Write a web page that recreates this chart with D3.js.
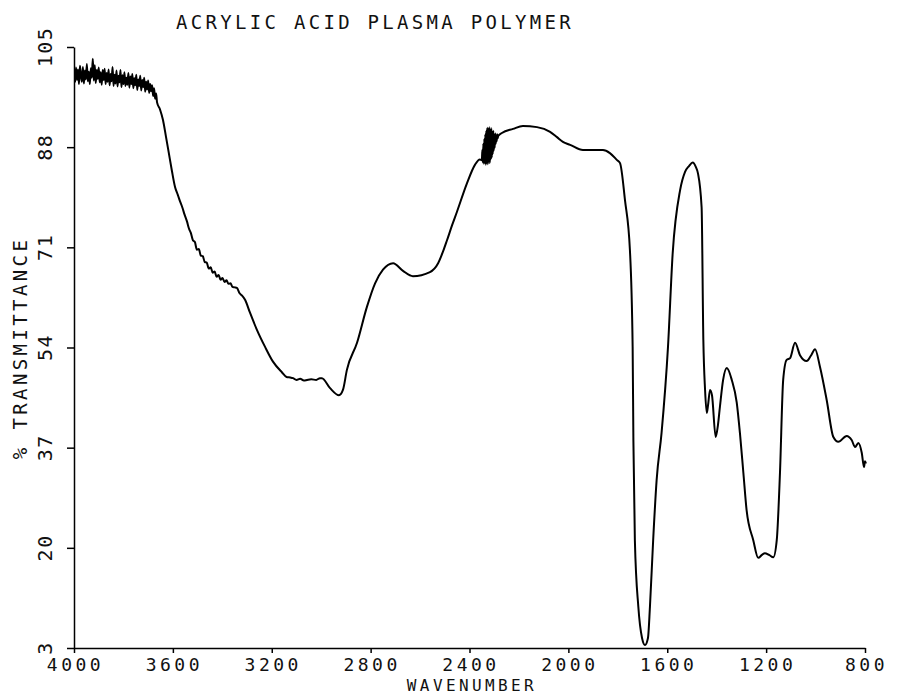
<!DOCTYPE html>
<html>

<head>
  <title>Acrylic Acid Plasma Polymer</title>
  <meta charset="utf-8" />
  <script src="https://d3js.org/d3.v7.min.js"></script>
  <style>
    body { margin: 0; background: #fff; }
    text { font-family: "DejaVu Sans Mono", monospace; fill: #111; }
    .spectrum { fill: none; stroke: #000; stroke-width: 2; stroke-linejoin: round; }
    .axis path, .axis line { stroke: #000; stroke-width: 1.5; }
  </style>
</head>

<body>
  <svg id="chart" width="901" height="695"></svg>

  <script>
    // wavenumber (cm-1) and % transmittance
    const wavenumber = [
      // noisy plateau
      3996, 3992, 3988, 3984, 3980, 3976, 3972, 3968, 3964, 3960, 3956, 3952, 3948, 3944, 3940, 3936,
      3932, 3928, 3924, 3920, 3916, 3912, 3908, 3904, 3900, 3896, 3892, 3888, 3884, 3880, 3876, 3872,
      3868, 3864, 3860, 3856, 3852, 3848, 3844, 3840, 3836, 3832, 3828, 3824, 3820, 3816, 3812, 3808,
      3804, 3800, 3796, 3792, 3788, 3784, 3780, 3776, 3772, 3768, 3764, 3760, 3756, 3752, 3748, 3744,
      3740, 3736, 3732, 3728, 3724, 3720, 3716, 3712, 3708, 3704, 3700, 3696, 3692, 3688, 3684, 3680,
      3676, 3672, 3668, 3664,
      // O-H band
      3652, 3640, 3628, 3616, 3604, 3591, 3580, 3571, 3562, 3553, 3543, 3535, 3527, 3519, 3511, 3503,
      3495, 3487, 3479, 3471, 3463, 3455, 3447, 3439, 3431, 3423, 3415, 3407, 3399, 3391, 3383, 3375,
      3367, 3359, 3350, 3341, 3330, 3320, 3308, 3288, 3260, 3227, 3195, 3159, 3140, 3125, 3114, 3100,
      3085, 3070, 3057, 3040, 3020, 3005, 2997, 2964, 2928, 2912, 2896, 2855, 2815, 2782, 2750, 2709,
      2669, 2629, 2560, 2527, 2507, 2491, 2470, 2451, 2410, 2378, 2358,
      // CO2 noise
      2350, 2348, 2346, 2344, 2342, 2340, 2338, 2336, 2334, 2332, 2330, 2328, 2326, 2324, 2322, 2320,
      2318, 2316, 2314, 2312, 2310, 2308, 2306, 2304, 2302, 2300, 2298, 2296, 2294, 2292, 2290, 2288,
      2286, 2284,
      // to the end
      2269, 2224, 2184, 2127, 2074, 2046, 2022, 1993, 1941, 1860, 1832, 1803, 1791, 1771, 1751, 1740,
      1737, 1731, 1717, 1702, 1690, 1678, 1670, 1657, 1643, 1623, 1597, 1578, 1548, 1528, 1512, 1497,
      1484, 1476, 1461, 1454, 1447, 1440, 1435, 1427, 1419, 1404, 1395, 1387, 1374, 1359, 1339, 1319,
      1306, 1292, 1279, 1252, 1232, 1217, 1205, 1188, 1171, 1157, 1144, 1131, 1117, 1103, 1083, 1063,
      1036, 1019, 1002, 982, 955, 928, 908, 874, 854, 840, 827, 813, 804, 800, 796
    ];
    const transmittance = [
      99.0, 101.5, 99.4, 101.2, 98.7, 101.8, 100.1, 99.1, 101.6, 98.8, 101.0, 99.5, 102.1, 99.2, 100.8, 98.7,
      101.4, 99.8, 103.0, 99.3, 101.9, 98.9, 101.1, 99.6, 101.5, 99.0, 100.7, 98.6, 101.1, 99.4, 101.3, 98.7,
      100.6, 99.1, 101.2, 98.5, 100.4, 99.2, 101.6, 98.4, 100.3, 98.8, 101.0, 98.3, 100.1, 99.0, 101.1, 98.2,
      100.2, 98.7, 100.7, 98.4, 99.8, 98.6, 100.6, 98.1, 100.0, 98.7, 100.4, 98.0, 99.7, 98.5, 100.3, 97.7,
      99.5, 98.4, 100.1, 97.6, 99.4, 98.2, 99.8, 97.4, 99.1, 97.8, 99.3, 97.2, 98.7, 97.5, 98.5, 96.7,
      98.0, 96.2, 97.1, 95.6,
      94.4, 92.6, 89.8, 86.9, 84.0, 81.2, 79.9, 78.8, 77.8, 76.6, 75.4, 74.2, 73.4, 72.2, 71.9, 70.6,
      70.7, 69.6, 69.5, 68.5, 68.4, 67.4, 67.6, 66.7, 66.9, 66.0, 66.3, 65.5, 65.8, 65.1, 65.4, 64.8,
      64.9, 64.3, 64.2, 64.1, 63.2, 62.8, 62.1, 59.9, 57.0, 54.1, 51.6, 49.8, 49.0, 48.9, 48.8, 48.5,
      48.7, 48.4, 48.5, 48.6, 48.5, 48.8, 48.8, 47.1, 45.9, 46.8, 50.2, 54.8, 60.9, 64.9, 67.2, 68.3,
      67.0, 66.1, 66.8, 68.3, 70.3, 72.2, 74.8, 77.0, 81.9, 85.0, 85.9,
      85.8, 87.5, 85.4, 88.6, 85.2, 89.4, 85.3, 90.2, 85.0, 90.8, 85.4, 91.3, 85.1, 91.0, 85.6, 91.4,
      85.3, 90.9, 85.9, 91.2, 86.2, 90.6, 86.8, 90.8, 87.4, 90.1, 87.9, 90.3, 88.6, 89.8, 89.0, 90.2,
      89.5, 89.9,
      90.4, 91.1, 91.6, 91.4, 90.6, 89.7, 88.9, 88.4, 87.5, 87.5, 87.0, 85.8, 85.3, 79.0, 70.5, 54.1,
      38.3, 21.3, 10.0, 4.7, 3.5, 4.7, 10.0, 21.3, 31.5, 39.5, 54.1, 70.0, 80.7, 83.8, 84.8, 85.4,
      84.6, 83.6, 77.8, 55.3, 46.8, 42.9, 44.2, 46.8, 45.9, 38.8, 40.8, 43.9, 48.5, 50.5, 48.5, 44.7,
      39.5, 32.7, 26.4, 21.3, 18.3, 18.8, 19.1, 18.8, 18.4, 21.3, 32.7, 48.5, 51.9, 52.2, 54.8, 52.7,
      51.7, 52.6, 53.7, 50.7, 45.1, 38.8, 38.0, 39.0, 38.3, 37.1, 37.8, 36.1, 33.7, 34.7, 34.3
    ];
    const xTicks = [4000, 3600, 3200, 2800, 2400, 2000, 1600, 1200, 800];
    const yTicks = [3, 20, 37, 54, 71, 88, 105];

    const svg = d3.select("#chart");
    const x = d3.scaleLinear().domain([4000, 800]).range([74, 865]);
    const y = d3.scaleLinear().domain([3, 105]).range([648, 47]);

    const data = wavenumber.map((w, i) => ({ w: w, t: transmittance[i] }));

    // axes
    svg.append("g")
      .attr("class", "axis")
      .attr("transform", "translate(0," + y(3) + ")")
      .call(d3.axisBottom(x).tickValues(xTicks).tickSize(5).tickSizeOuter(0).tickFormat(""));

    svg.append("g")
      .attr("class", "axis")
      .attr("transform", "translate(" + x(4000) + ",0)")
      .call(d3.axisLeft(y).tickValues(yTicks).tickSize(7).tickSizeOuter(0).tickFormat(""));

    svg.selectAll("text.xlab")
      .data(xTicks)
      .join("text")
      .attr("class", "xlab")
      .attr("x", d => x(d) + 1.5)
      .attr("y", 670.5)
      .attr("text-anchor", "middle")
      .style("font-size", "18px")
      .style("letter-spacing", "3.5px")
      .text(d => d);

    svg.selectAll("text.ylab")
      .data(yTicks)
      .join("text")
      .attr("class", "ylab")
      .attr("transform", d => "translate(52," + y(d) + ") rotate(-90)")
      .attr("text-anchor", "middle")
      .style("font-size", "20px")
      .style("letter-spacing", "1.5px")
      .text(d => d);

    // titles
    svg.append("text")
      .attr("x", 375).attr("y", 29)
      .attr("text-anchor", "middle")
      .style("font-size", "19px")
      .style("letter-spacing", "3.3px")
      .text("ACRYLIC ACID PLASMA POLYMER");

    svg.append("text")
      .attr("x", 472).attr("y", 691)
      .attr("text-anchor", "middle")
      .style("font-size", "16px")
      .style("letter-spacing", "3.4px")
      .text("WAVENUMBER");

    svg.append("text")
      .attr("transform", "translate(27,348) rotate(-90)")
      .attr("text-anchor", "middle")
      .style("font-size", "19px")
      .style("letter-spacing", "3.4px")
      .text("% TRANSMITTANCE");

    // spectrum
    const line = d3.line()
      .x(d => x(d.w))
      .y(d => y(d.t))
      .curve(d3.curveMonotoneX);

    svg.append("path")
      .datum(data)
      .attr("class", "spectrum")
      .attr("d", line);
  </script>
</body>

</html>
